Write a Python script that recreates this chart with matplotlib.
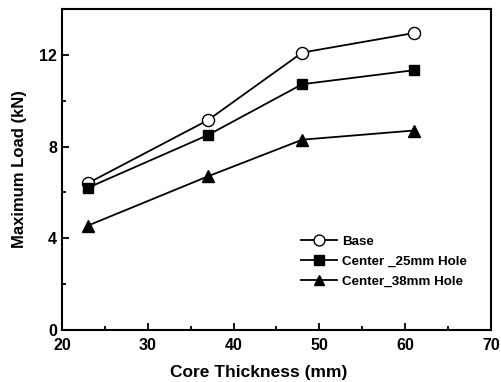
import matplotlib
matplotlib.use("Agg")
import matplotlib.pyplot as plt
from matplotlib.ticker import MultipleLocator

plt.rcParams['font.family'] = ['Liberation Sans', 'DejaVu Sans']
plt.rcParams['font.weight'] = 'bold'

thickness = [23, 37, 48, 61]
base = [6.4, 9.15, 12.1, 12.95]
hole25 = [6.2, 8.5, 10.72, 11.33]
hole38 = [4.55, 6.7, 8.3, 8.7]
labels = ['Base', 'Center _25mm Hole', 'Center_38mm Hole']

fig = plt.figure(figsize=(5.01, 3.82), dpi=100)
ax = fig.add_axes([62/501, 1-330/382, (491-62)/501, (330-9)/382])

ax.plot(thickness, base, '-o', color='black', mfc='white', mec='black', ms=8.7, lw=1.3, label=labels[0])
ax.plot(thickness, hole25, '-s', color='black', ms=7.5, lw=1.3, label=labels[1])
ax.plot(thickness, hole38, '-^', color='black', ms=8.7, lw=1.3, label=labels[2])

ax.set_xlim(20, 70)
ax.set_ylim(0, 14)
ax.xaxis.set_major_locator(MultipleLocator(10))
ax.xaxis.set_minor_locator(MultipleLocator(5))
ax.yaxis.set_major_locator(MultipleLocator(4))
ax.yaxis.set_minor_locator(MultipleLocator(2))
ax.tick_params(which='both', direction='in', width=1.3, labelsize=11.5)
ax.tick_params(which='major', length=5)
ax.tick_params(which='minor', length=3)
ax.tick_params(axis='x', top=False, pad=6)
ax.tick_params(axis='y', right=False)
for s in ax.spines.values():
    s.set_linewidth(1.5)

ax.set_xlabel('Core Thickness (mm)', fontsize=12.5, fontweight='bold')
ax.xaxis.set_label_coords((259-62)/429, -0.108)
ax.set_ylabel('Maximum Load (kN)', fontsize=12, fontweight='bold', labelpad=9)

ax.legend(loc='upper left', bbox_to_anchor=((294-62)/429, (330-229)/321), frameon=False,
          fontsize=9.6, handlelength=2.7, handletextpad=0.4, labelspacing=0.55, borderpad=0,
          markerscale=0.9)

fig.savefig('out.png', dpi=100)
